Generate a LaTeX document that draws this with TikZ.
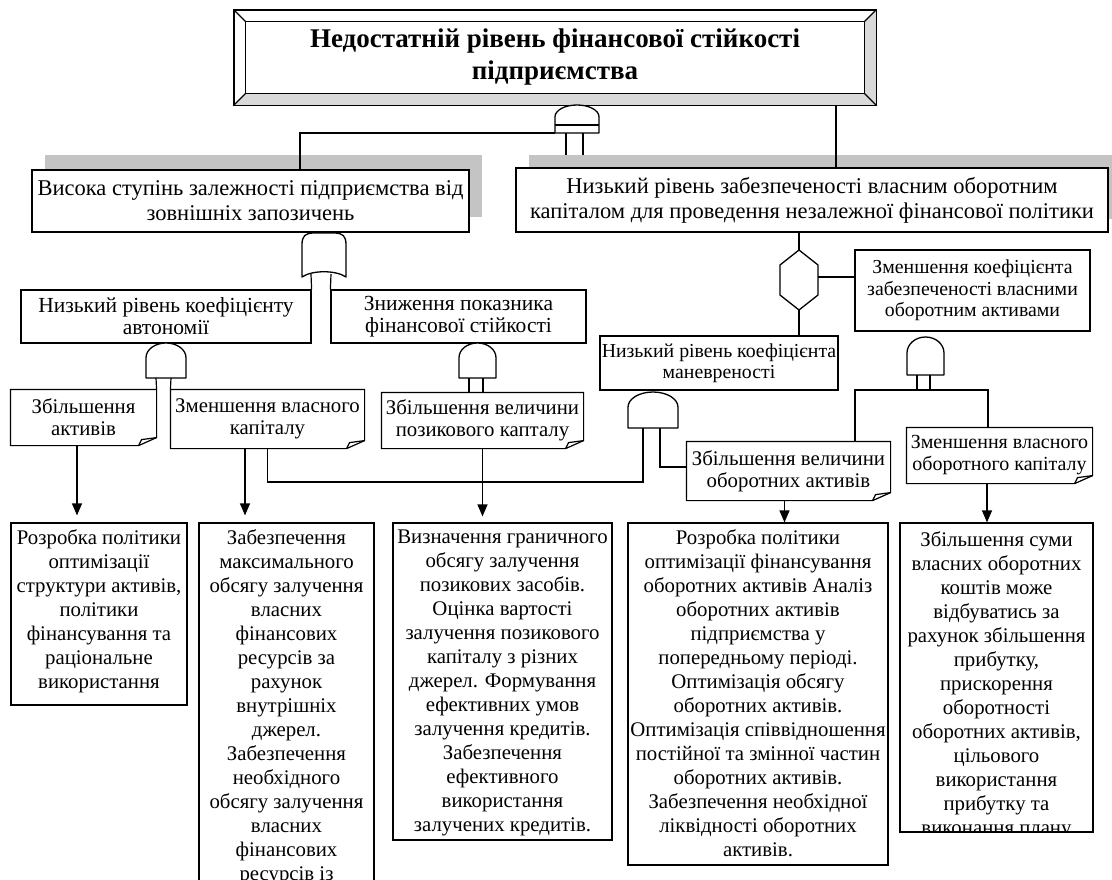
\documentclass[tikz,border=0pt]{standalone}
\usepackage{fontspec}
\setmainfont{Liberation Serif}
\usetikzlibrary{arrows.meta,positioning}

\definecolor{shadowgray}{HTML}{C4C4C4}
\definecolor{bevelgray}{HTML}{D9D9D9}
\newcommand{\bodysize}{\fontsize{20.8}{24}\selectfont}
\newcommand{\bigsize}{\fontsize{22.5}{25}\selectfont}
\newcommand{\midsize}{\fontsize{21.5}{22}\selectfont}
\newcommand{\smallsize}{\fontsize{19.8}{21.5}\selectfont}
\newcommand{\titlesize}{\fontsize{27}{32}\selectfont\bfseries}

% dome gate: name, left, right, top, bottom (picture units)
\newcommand{\andgate}[5]{%
  \pgfmathsetmacro\gatecx{(#2+#3)/2}%
  \pgfmathsetmacro\gatemid{#4+0.42*(#5-#4)}%
  \pgfmathsetmacro\gatek{0.552*(\gatemid-#4)}%
  \pgfmathsetmacro\gatew{0.276*(#3-#2)}%
  \draw[gate] (#2,#5) -- (#2,\gatemid) .. controls (#2,{\gatemid-\gatek}) and ({\gatecx-\gatew},#4) .. (\gatecx,#4)
    .. controls ({\gatecx+\gatew},#4) and (#3,{\gatemid-\gatek}) .. (#3,\gatemid) -- (#3,#5) -- cycle;
  \coordinate (#1) at (\gatecx,#4);}

% outline with folded corner
\newcommand{\notefold}[1]{%
  \draw[frame] (#1.north west) -- (#1.north east) -- ([yshift=8pt]#1.south east)
    -- ([xshift=-18pt]#1.south east) -- (#1.south west) -- cycle;
  \draw[frame,line join=round] ([xshift=-18pt]#1.south east) -- ([xshift=-15pt,yshift=6pt]#1.south east)
    -- ([yshift=8pt]#1.south east);}

\begin{document}
\begin{tikzpicture}[
  x=1pt, y=-1pt,
  box/.style={draw,line width=1.2pt,align=center,inner sep=1pt,font=\bodysize},
  note/.style={box,draw=none,font=\fontsize{20.8}{22}\selectfont},
  shadowbox/.style={fill=shadowgray,inner sep=0pt},
  frame/.style={draw,line width=1.2pt},
  gate/.style={draw,line width=1.3pt,fill=white,line join=round},
  line/.style={line width=1.2pt},
  arr/.style={-{Triangle[width=10pt,length=12pt]},line width=1.2pt},
  txt/.style={align=center,inner sep=0pt,font=\bodysize}
]
\clip (0,0) rectangle (1112,880);

% top event with bevel
\node[box,font=\titlesize,minimum width=642pt,minimum height=95pt] (top) at (555,57.5)
  {Недостатній рівень фінансової стійкості\\підприємства};
\fill[bevelgray] (top.south west) -- ([shift={(12pt,12pt)}]top.south west)
  -- ([shift={(-12pt,12pt)}]top.south east) -- ([shift={(-12pt,-12pt)}]top.north east)
  -- (top.north east) -- (top.south east) -- cycle;
\draw[frame] (top.north west) rectangle (top.south east);
\draw[frame] ([shift={(12pt,-12pt)}]top.north west) rectangle ([shift={(-12pt,12pt)}]top.south east);
\draw[frame] (top.north west) -- ([shift={(12pt,-12pt)}]top.north west);
\draw[frame] (top.north east) -- ([shift={(-12pt,-12pt)}]top.north east);
\draw[frame] (top.south west) -- ([shift={(12pt,12pt)}]top.south west);
\draw[frame] (top.south east) -- ([shift={(-12pt,12pt)}]top.south east);

% first level
\node[shadowbox,minimum width=437pt,minimum height=62pt] (l1s) at (263.5,186) {};
\node[shadowbox,minimum width=592pt,minimum height=64pt] (r1s) at (825,187) {};
\node[box,fill=white,font=\bigsize,minimum width=437pt,minimum height=62pt] (l1) at (250.5,201)
  {Висока ступінь залежності підприємства від\\зовнішніх запозичень};
\node[box,fill=white,font=\bigsize,minimum width=592pt,minimum height=64pt] (r1) at (812,200)
  {Низький рівень забезпеченості власним оборотним\\капіталом для проведення незалежної фінансової політики};

% second level
\node[box,font=\midsize,minimum width=290pt,minimum height=53pt] (l2) at (166,316.5) {Низький рівень коефіцієнту\\автономії};
\node[box,font=\midsize,minimum width=255pt,minimum height=53pt] (l3) at (458.5,316.5) {Зниження показника\\фінансової стійкості};
\node[box,font=\smallsize,minimum width=235pt,minimum height=81pt] (r2) at (972.5,290.5)
  {Зменшення коефіцієнта\\забезпеченості власними\\оборотним активами};
\node[box,font=\smallsize,minimum width=238pt,minimum height=54pt] (r3) at (719,363) {Низький рівень коефіцієнта\\маневреності};

% third level
\node[note,minimum width=145pt,minimum height=55pt] (l4) at (83.5,417.5) {Збільшення\\активів};
\node[note,minimum width=193pt,minimum height=58pt] (l5) at (267.5,419) {Зменшення власного\\капіталу};
\node[note,minimum width=201pt,minimum height=55pt] (l6) at (482.5,420.5) {Збільшення величини\\позикового капталу};
\node[note,minimum width=203pt,minimum height=58pt] (l7) at (788.5,471) {Збільшення величини\\оборотних активів};
\node[note,font=\fontsize{20}{22}\selectfont,minimum width=185pt,minimum height=55pt] (l8) at (999.5,455.5) {Зменшення власного\\оборотного капіталу};
\foreach \n in {l4,l5,l6,l7,l8} {\notefold{\n}}

% gates
\andgate{a1}{555}{599}{105}{133}
\draw[gate] (555,125) -- (599,125);
\andgate{a2}{146}{186}{343}{378}
\andgate{a3}{459}{496}{343}{378}
\andgate{a4}{628}{678}{392}{428}
\andgate{a5}{907}{944}{337}{375}
\draw[gate] (302,277) -- (302,245) .. controls (302,236) and (305,233) .. (314,233) -- (334,233)
  .. controls (343,233) and (346,236) .. (346,245) -- (346,277) .. controls (336,270) and (312,270) .. (302,277) -- cycle;
\draw[gate] (799,250) -- (818,265) -- (818,295) -- (799,310) -- (780,295) -- (780,265) -- cycle;

\coordinate (a1-l) at (555,133);
\coordinate (a1-p) at (566,133);
\coordinate (a1-q) at (583,133);
\coordinate (o1-l) at (311,274);
\coordinate (o1-r) at (331,274);
\coordinate (a2-l) at (156,378);
\coordinate (a2-r) at (171,378);
\coordinate (a3-l) at (469,378);
\coordinate (a3-r) at (483,378);
\coordinate (a4-l) at (643,428);
\coordinate (a4-r) at (660,428);
\coordinate (a5-l) at (917,375);
\coordinate (a5-r) at (930,375);
\coordinate (h1-n) at (799,250);
\coordinate (h1-s) at (799,310);
\coordinate (h1-e) at (818,277);
\coordinate (j1) at (643,482);
\coordinate (k1) at (855,390);
\coordinate (k2) at (988,390);

% measures
\node[frame,minimum width=176pt,minimum height=182pt] (b1) at (99,614) {};
\node[frame,minimum width=175pt,minimum height=382pt] (b2) at (286.5,714) {};
\node[frame,minimum width=219pt,minimum height=317pt] (b3) at (502.5,681.5) {};
\node[frame,minimum width=260pt,minimum height=342pt] (b4) at (758,694) {};
\node[frame,minimum width=193pt,minimum height=309pt] (b5) at (996.5,677.5) {};
\node[txt,anchor=north] (b1t) at ([yshift=-7pt]b1.north)
  {Розробка політики\\оптимізації\\структури активів,\\політики\\фінансування та\\раціональне\\використання};
\node[txt,anchor=north] (b2t) at ([yshift=-7pt]b2.north)
  {Забезпечення\\максимального\\обсягу залучення\\власних\\фінансових\\ресурсів за\\рахунок\\внутрішніх\\джерел.\\Забезпечення\\необхідного\\обсягу залучення\\власних\\фінансових\\ресурсів із};
\node[txt,anchor=north] (b3t) at ([yshift=-7pt]b3.north)
  {Визначення граничного\\обсягу залучення\\позикових засобів.\\Оцінка вартості\\залучення позикового\\капіталу з різних\\джерел. Формування\\ефективних умов\\залучення кредитів.\\Забезпечення\\ефективного\\використання\\залучених кредитів.};
\node[txt,anchor=north] (b4t) at ([yshift=-7pt]b4.north)
  {Розробка політики\\оптимізації фінансування\\оборотних активів Аналіз\\оборотних активів\\підприємства у\\попередньому періоді.\\Оптимізація обсягу\\оборотних активів.\\Оптимізація співвідношення\\постійної та змінної частин\\оборотних активів.\\Забезпечення необхідної\\ліквідності оборотних\\активів.};
\begin{scope}
\clip (b5.north west) rectangle (b5.south east);
\node[txt,anchor=north] (b5t) at ([yshift=-9pt]b5.north)
  {Збільшення суми\\власних оборотних\\коштів може\\відбуватись за\\рахунок збільшення\\прибутку,\\прискорення\\оборотності\\оборотних активів,\\цільового\\використання\\прибутку та\\виконання плану};
\end{scope}

% connectors
\draw[line] (a1-l) -| ([xshift=49.5pt]l1.north);
\draw[line] (a1-p) -- (a1-p |- r1s.north);
\draw[line] (a1-q) -- (a1-q |- r1s.north);
\draw[line] ([xshift=24pt]r1.north) -- ([xshift=24pt]r1.north |- top.south);
\draw[line] (o1-l) -- (l2.north east);
\draw[line] (o1-r) -- (l3.north west);
\draw[line] (a2-l) -- (l4.north east);
\draw[line] (a2-r) -- (l5.north west);
\draw[line] (a3-l) -- (a3-l |- l6.north);
\draw[line] (a3-r) -- (a3-r |- l6.north);
\draw[line] (h1-n |- r1.south) -- (h1-n);
\draw[line] (h1-s) -- (h1-s |- r3.north);
\draw[line] (h1-e) -- (h1-e -| r2.west);
\draw[line] (l5.south) |- (j1) -- (a4-l);
\draw[line] (a4-r) |- ([yshift=4pt]l7.west);
\draw[line] (a5-l) -- (a5-l |- k1);
\draw[line] (a5-r) -- (a5-r |- k1);
\draw[line] (k1 |- l7.north) -- (k1) -- (k2) -- (k2 |- l8.north);
\draw[arr,shorten >=7pt] ([xshift=-6.5pt]l4.south) -- ([xshift=-6.5pt]l4.south |- b1.north);
\draw[arr,shorten >=7pt] ([xshift=-22.5pt]l5.south) -- ([xshift=-22.5pt]l5.south |- b2.north);
\draw[arr,shorten >=6pt] (l6.south) -- (l6.south |- b3.north);
\draw[arr] ([xshift=-4pt]l7.south) -- ([xshift=-4pt]l7.south |- b4.north);
\draw[arr] ([xshift=-12.5pt]l8.south) -- ([xshift=-12.5pt]l8.south |- b5.north);
\end{tikzpicture}
\end{document}
